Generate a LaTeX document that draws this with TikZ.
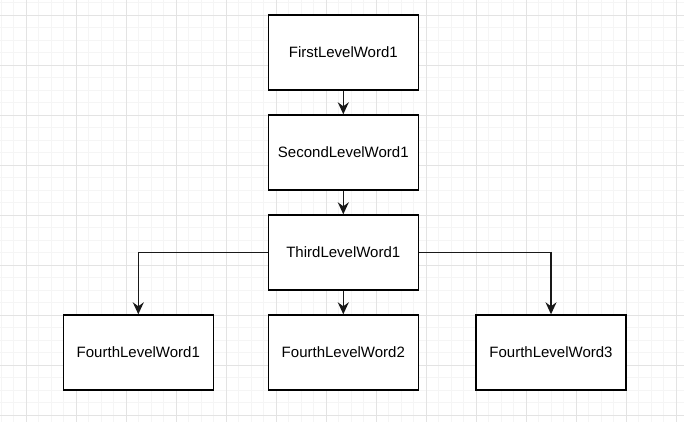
\documentclass[tikz,border=0pt]{standalone}
\usepackage{fontspec}
\setmainfont{Liberation Sans}
\usetikzlibrary{arrows.meta}
\begin{document}
\begin{tikzpicture}[x=1pt,y=-1pt,
  box/.style={draw=black,line width=1.4pt,fill=white,minimum width=150pt,minimum height=75pt,inner sep=0pt,font=\fontsize{15}{18}\selectfont},
  conn/.style={line width=1.4pt,draw=black!90,-{Stealth[length=12pt,width=11pt,inset=4pt]}}]
\useasboundingbox (0,0) rectangle (684,422);
\fill[white] (0,0) rectangle (684,422);
% minor grid
\foreach \i in {0,...,55} {\draw[line width=0.9pt,color=black!4] ({1+12.5*\i},0) -- ({1+12.5*\i},422);}
\foreach \j in {0,...,34} {\draw[line width=0.9pt,color=black!4] (0,{2.5+12.5*\j}) -- (684,{2.5+12.5*\j});}
% major grid
\foreach \i in {0,...,13} {\draw[line width=0.9pt,color=black!11] ({26+50*\i},0) -- ({26+50*\i},422);}
\foreach \j in {0,...,8} {\draw[line width=0.9pt,color=black!11] (0,{15+50*\j}) -- (684,{15+50*\j});}
\node[box] (f1) at (343.3,52.5) {FirstLevelWord1};
\node[box] (s1) at (343.3,152.5) {SecondLevelWord1};
\node[box] (t1) at (343.3,252.5) {ThirdLevelWord1};
\node[box] (q1) at (138.3,352.5) {FourthLevelWord1};
\node[box] (q2) at (343.3,352.5) {FourthLevelWord2};
\node[box] (q3) at (551,352.5) {FourthLevelWord3};
\draw[conn] (f1) -- (s1);
\draw[conn] (s1) -- (t1);
\draw[conn] (t1) -- (q2);
\draw[conn] (t1.west) -| (q1.north);
\draw[conn] (t1.east) -| (q3.north);
\end{tikzpicture}
\end{document}
